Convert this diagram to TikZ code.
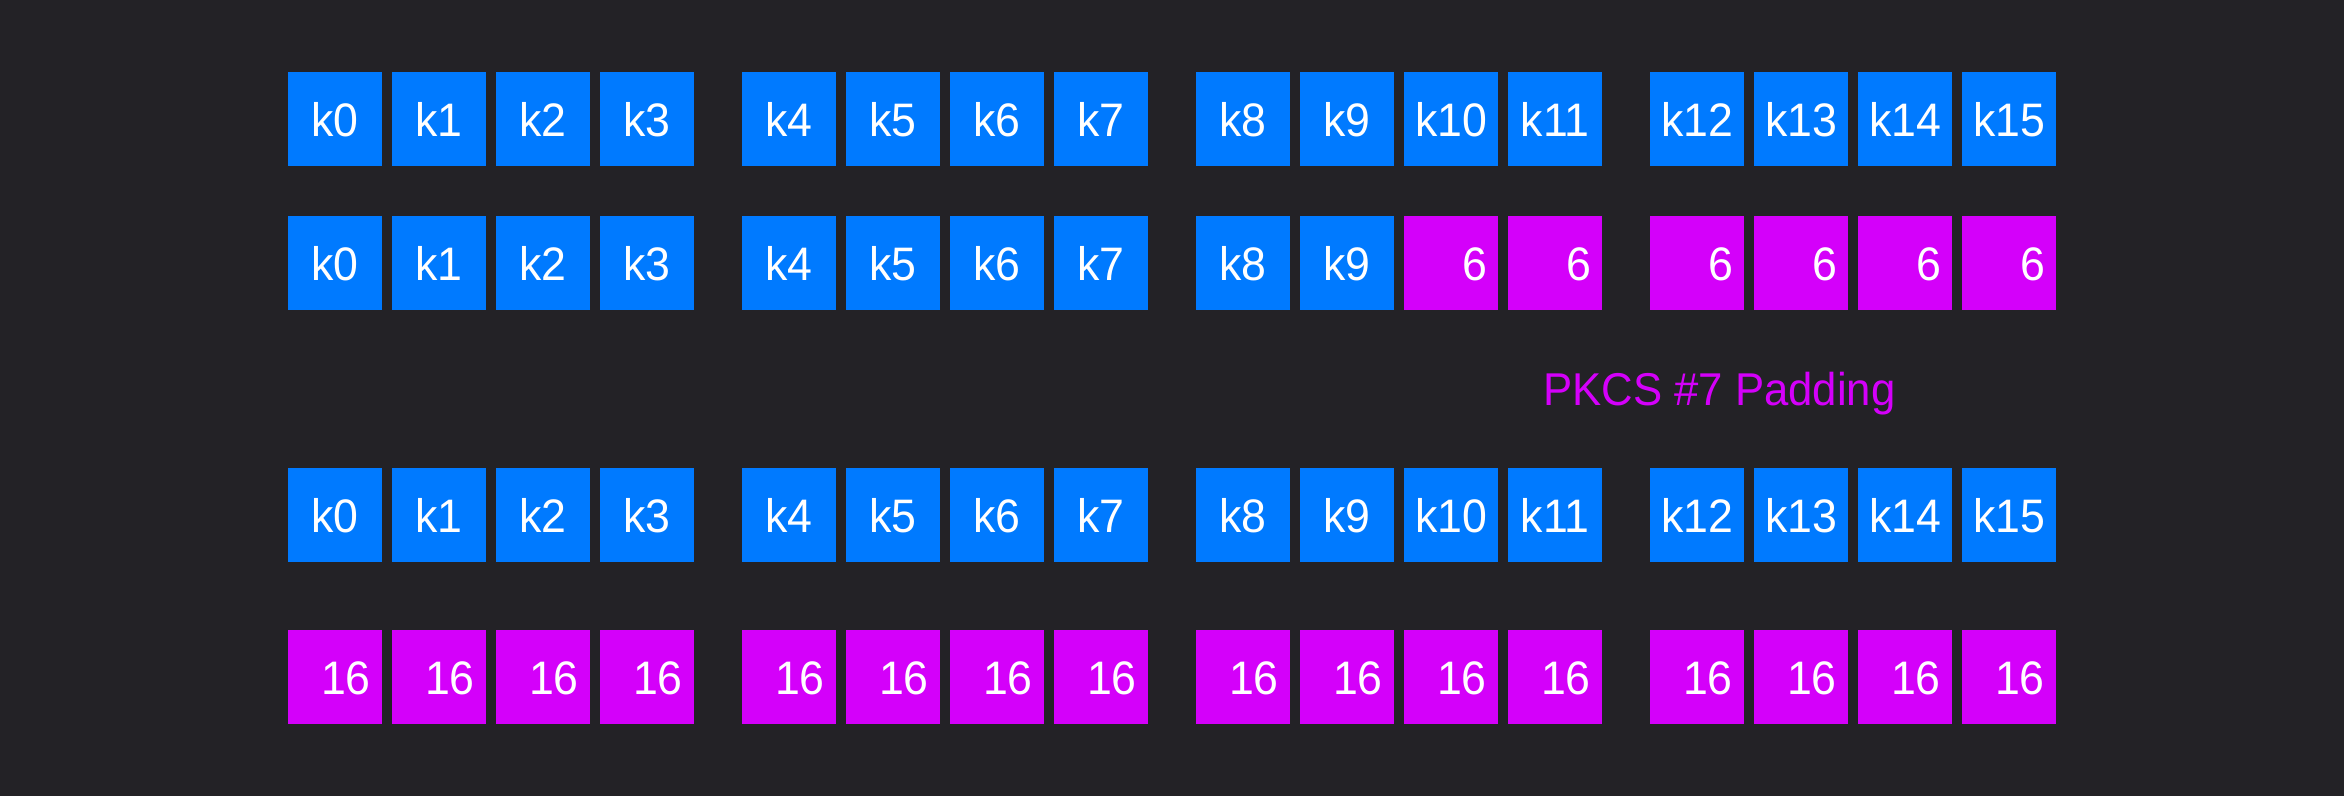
\documentclass[tikz,border=0pt]{standalone}
\usepackage{fontspec}
\setmainfont{Liberation Sans}
\newfontfamily\cellfont{Liberation Sans}[FakeStretch=0.95]
\newfontfamily\lblfont{Liberation Sans}[FakeStretch=0.95]
\definecolor{bg}{RGB}{35,34,38}
\definecolor{kblue}{RGB}{0,122,255}
\definecolor{pmag}{RGB}{212,0,250}
\begin{document}
\begin{tikzpicture}[x=1pt,y=-1pt,
  cell/.style={minimum width=94pt,minimum height=94pt,inner sep=0pt,outer sep=0pt,anchor=north west,draw=none},
  bcell/.style={cell,fill=kblue},
  mcell/.style={cell,fill=pmag},
  ktxt/.style={text=white,font=\cellfont\fontsize{47}{56}\selectfont,inner sep=0pt,anchor=base},
  ntxt/.style={ktxt,anchor=base east},
  lbl/.style={text=pmag,font=\lblfont\fontsize{46}{55}\selectfont,inner sep=0pt,anchor=base west}]
\fill[bg] (0,0) rectangle (2344,796);
% rows 1 and 3: k0..k15
\foreach \r/\y in {1/72,3/468}{
  \foreach \i in {0,...,15}{
    \pgfmathsetmacro\xx{288+454*int(\i/4)+104*mod(\i,4)}
    \node[bcell] (r\r b\i) at (\xx,\y) {};
    \node[ktxt] (r\r t\i) at ([yshift=-17pt]r\r b\i.center) {k\i};
  }
}
% row 2: k0..k9 then padding 6
\foreach \i in {0,...,9}{
  \pgfmathsetmacro\xx{288+454*int(\i/4)+104*mod(\i,4)}
  \node[bcell] (r2b\i) at (\xx,216) {};
  \node[ktxt] (r2t\i) at ([yshift=-17pt]r2b\i.center) {k\i};
}
\foreach \i in {10,...,15}{
  \pgfmathsetmacro\xx{288+454*int(\i/4)+104*mod(\i,4)}
  \node[mcell] (r2b\i) at (\xx,216) {};
  \node[ntxt] (r2t\i) at ([xshift=-10pt,yshift=-17pt]r2b\i.east) {6};
}
% row 4: all 16
\foreach \i in {0,...,15}{
  \pgfmathsetmacro\xx{288+454*int(\i/4)+104*mod(\i,4)}
  \node[mcell] (r4b\i) at (\xx,630) {};
  \node[ntxt] (r4t\i) at ([xshift=-11pt,yshift=-17pt]r4b\i.east) {16};
}
\node[lbl] (pad) at (1543,405) {PKCS \#7 Padding};
\end{tikzpicture}
\end{document}
